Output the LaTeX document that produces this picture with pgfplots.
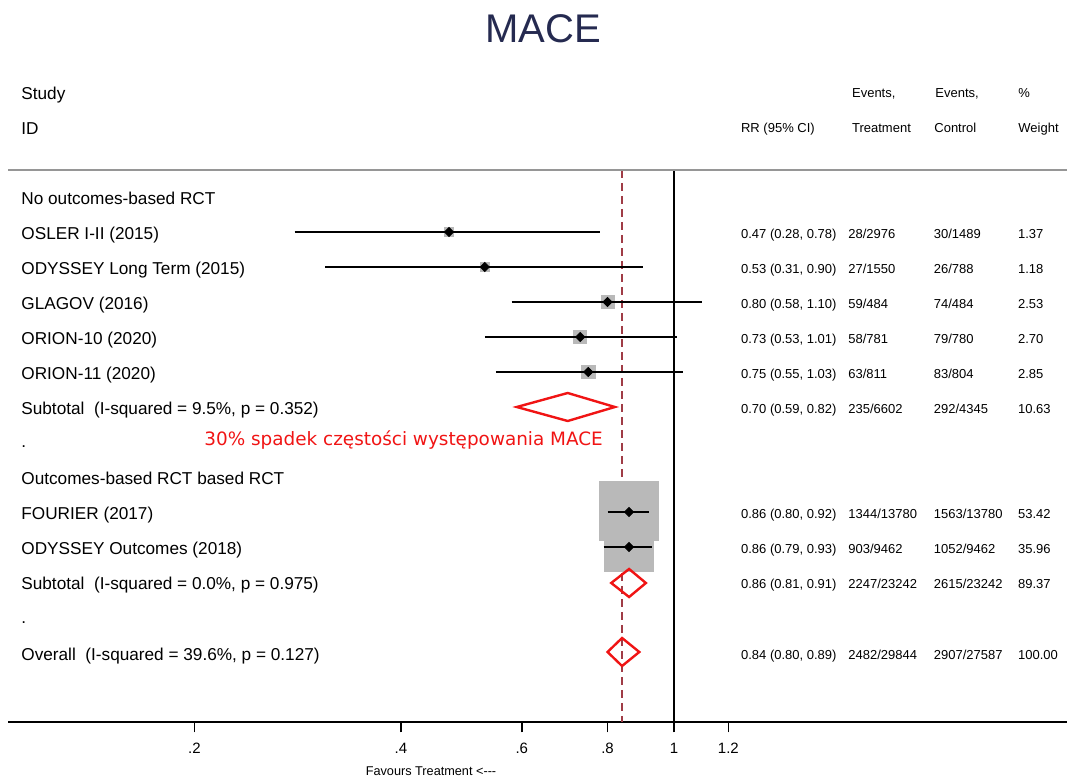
\documentclass[border=0pt]{standalone}
\usepackage{pgfplots}
\pgfplotsset{compat=1.18}
\usepackage{pgfplotstable}
\usepackage{fontspec}
\setmainfont{Liberation Sans}
\newfontfamily\redfont{DejaVu Sans}
\definecolor{sqgray}{RGB}{185,185,185}
\definecolor{titleblue}{RGB}{37,42,80}
\definecolor{dashred}{RGB}{160,60,70}
\definecolor{mred}{RGB}{240,20,20}
\definecolor{linegray}{RGB}{150,150,150}

% y = minus the row position (pixels from top)
\pgfplotstableread{
y est lo hi w
-232 0.47 0.28 0.78 1.37
-267 0.53 0.31 0.90 1.18
-302 0.80 0.58 1.10 2.53
-337 0.73 0.53 1.01 2.70
-372 0.75 0.55 1.03 2.85
-512 0.86 0.80 0.92 53.42
-547 0.86 0.79 0.93 35.96
}\studies

\newcommand{\lab}[2]{\node[anchor=base west,inner sep=0pt,font=\fontsize{8.6}{10}\selectfont] at (21,#1) {#2};}
\newcommand{\rrow}[5]{%
\node[anchor=base west,inner sep=0pt,font=\fontsize{6.5}{8}\selectfont] at (740.7,#1) {#2};
\node[anchor=base west,inner sep=0pt,font=\fontsize{6.5}{8}\selectfont] at (848,#1) {#3};
\node[anchor=base west,inner sep=0pt,font=\fontsize{6.5}{8}\selectfont] at (933.5,#1) {#4};
\node[anchor=base west,inner sep=0pt,font=\fontsize{6.5}{8}\selectfont] at (1017.7,#1) {#5};}

\begin{document}
\begin{tikzpicture}
\begin{axis}[
  set layers,
  at={(4pt,-361.25pt)}, anchor=south west,
  scale only axis, width=529.5pt, height=276.25pt,
  xmode=log, xmin=0.10699, xmax=3.739,
  ymin=-722.5, ymax=-170,
  axis x line*=bottom, axis y line=none,
  axis line style={black, line width=1pt},
  xtick={0.2,0.4,0.6,0.8,1,1.2},
  xticklabels={.2,.4,.6,.8,1,1.2},
  minor xtick={},
  tick align=outside,
  major tick length=5pt,
  x tick style={black, line width=0.8pt},
  xticklabel style={font=\fontsize{7.5}{9}\selectfont, inner sep=0pt, anchor=north, yshift=-5.25pt},
  clip=false,
]
% reference lines
\addplot[dashred, line width=0.7pt, dash pattern=on 4pt off 2.5pt] coordinates {(0.84,-170) (0.84,-722.5)};
\addplot[black, line width=0.8pt] coordinates {(1,-170) (1,-722.5)};
% weight boxes (half side in pt proportional to sqrt of % weight)
\addplot[only marks, mark=square*, mark size=2.37pt, draw=sqgray, fill=sqgray] coordinates {(0.47,-232)};
\addplot[only marks, mark=square*, mark size=2.20pt, draw=sqgray, fill=sqgray] coordinates {(0.53,-267)};
\addplot[only marks, mark=square*, mark size=3.22pt, draw=sqgray, fill=sqgray] coordinates {(0.80,-302)};
\addplot[only marks, mark=square*, mark size=3.33pt, draw=sqgray, fill=sqgray] coordinates {(0.73,-337)};
\addplot[only marks, mark=square*, mark size=3.42pt, draw=sqgray, fill=sqgray] coordinates {(0.75,-372)};
\addplot[only marks, mark=square*, mark size=14.6pt, draw=sqgray, fill=sqgray] coordinates {(0.86,-511)};
\addplot[only marks, mark=square*, mark size=12.1pt, draw=sqgray, fill=sqgray] coordinates {(0.86,-547)};
% confidence intervals
\addplot[on layer=axis foreground, black, line width=1.4pt] coordinates {(0.28,-232) (0.78,-232)};
\addplot[on layer=axis foreground, black, line width=1.4pt] coordinates {(0.31,-267) (0.90,-267)};
\addplot[on layer=axis foreground, black, line width=1.4pt] coordinates {(0.58,-302) (1.10,-302)};
\addplot[on layer=axis foreground, black, line width=1.4pt] coordinates {(0.53,-337) (1.01,-337)};
\addplot[on layer=axis foreground, black, line width=1.4pt] coordinates {(0.55,-372) (1.03,-372)};
\addplot[on layer=axis foreground, black, line width=1.4pt] coordinates {(0.80,-512) (0.92,-512)};
\addplot[on layer=axis foreground, black, line width=1.4pt] coordinates {(0.79,-547) (0.93,-547)};
% point estimates
\addplot[on layer=axis foreground, only marks, mark=square*, mark size=1.6pt, mark options={rotate=45}, black] table[x=est, y=y] {\studies};
% pooled diamonds
\addplot[on layer=axis foreground, mred, line width=1.2pt, line join=miter] coordinates {(0.59,-407) (0.70,-393) (0.82,-407) (0.70,-421)} -- cycle;
\addplot[on layer=axis foreground, mred, line width=1.2pt, line join=miter] coordinates {(0.81,-583) (0.86,-569) (0.91,-583) (0.86,-597)} -- cycle;
\addplot[on layer=axis foreground, mred, line width=1.2pt, line join=miter] coordinates {(0.80,-652) (0.84,-638) (0.89,-652) (0.84,-666)} -- cycle;
% top rule
\draw[linegray, line width=0.7pt] (rel axis cs:0,1) -- (rel axis cs:1,1);
\end{axis}

\begin{scope}[x=0.5pt,y=-0.5pt]
\node[anchor=base, inner sep=0pt, font=\fontsize{20}{24}\selectfont, text=titleblue] at (543,43) {MACE};
\lab{99.5}{Study}
\lab{134.5}{ID}
\lab{205}{No outcomes-based RCT}
\lab{240}{OSLER I-II (2015)}
\lab{275}{ODYSSEY Long Term (2015)}
\lab{310}{GLAGOV (2016)}
\lab{345}{ORION-10 (2020)}
\lab{380}{ORION-11 (2020)}
\lab{415}{Subtotal~~(I-squared = 9.5\%, p = 0.352)}
\lab{448}{.}
\lab{485}{Outcomes-based RCT based RCT}
\lab{520}{FOURIER (2017)}
\lab{555}{ODYSSEY Outcomes (2018)}
\lab{589.5}{Subtotal~~(I-squared = 0.0\%, p = 0.975)}
\lab{624}{.}
\lab{661}{Overall~~(I-squared = 39.6\%, p = 0.127)}
% right headers
\node[anchor=base west,inner sep=0pt,font=\fontsize{6.5}{8}\selectfont] at (851.7,98) {Events,};
\node[anchor=base west,inner sep=0pt,font=\fontsize{6.5}{8}\selectfont] at (935,98) {Events,};
\node[anchor=base west,inner sep=0pt,font=\fontsize{6.5}{8}\selectfont] at (1018,98) {\%};
\node[anchor=base west,inner sep=0pt,font=\fontsize{6.5}{8}\selectfont] at (740.7,133) {RR (95\% CI)};
\node[anchor=base west,inner sep=0pt,font=\fontsize{6.5}{8}\selectfont] at (851.7,133) {Treatment};
\node[anchor=base west,inner sep=0pt,font=\fontsize{6.5}{8}\selectfont] at (934,133) {Control};
\node[anchor=base west,inner sep=0pt,font=\fontsize{6.5}{8}\selectfont] at (1018,133) {Weight};
% right columns
\rrow{238.5}{0.47 (0.28, 0.78)}{28/2976}{30/1489}{1.37}
\rrow{273.5}{0.53 (0.31, 0.90)}{27/1550}{26/788}{1.18}
\rrow{308.5}{0.80 (0.58, 1.10)}{59/484}{74/484}{2.53}
\rrow{343.5}{0.73 (0.53, 1.01)}{58/781}{79/780}{2.70}
\rrow{378.5}{0.75 (0.55, 1.03)}{63/811}{83/804}{2.85}
\rrow{413.5}{0.70 (0.59, 0.82)}{235/6602}{292/4345}{10.63}
\rrow{519}{0.86 (0.80, 0.92)}{1344/13780}{1563/13780}{53.42}
\rrow{553.5}{0.86 (0.79, 0.93)}{903/9462}{1052/9462}{35.96}
\rrow{588.5}{0.86 (0.81, 0.91)}{2247/23242}{2615/23242}{89.37}
\rrow{659.5}{0.84 (0.80, 0.89)}{2482/29844}{2907/27587}{100.00}
% annotation
\node[anchor=base west, inner sep=0pt, font=\redfont\fontsize{9.2}{11}\selectfont, text=mred] at (204,446) {30\% spadek częstości występowania MACE};
% axis caption
\node[anchor=base, inner sep=0pt, font=\fontsize{6.35}{8}\selectfont] at (431,775.5) {Favours Treatment <-{}-{}-};
\end{scope}
\pgfresetboundingbox
\path[use as bounding box] (0pt,0pt) rectangle (533.5pt,-390pt);
\end{tikzpicture}
\end{document}
